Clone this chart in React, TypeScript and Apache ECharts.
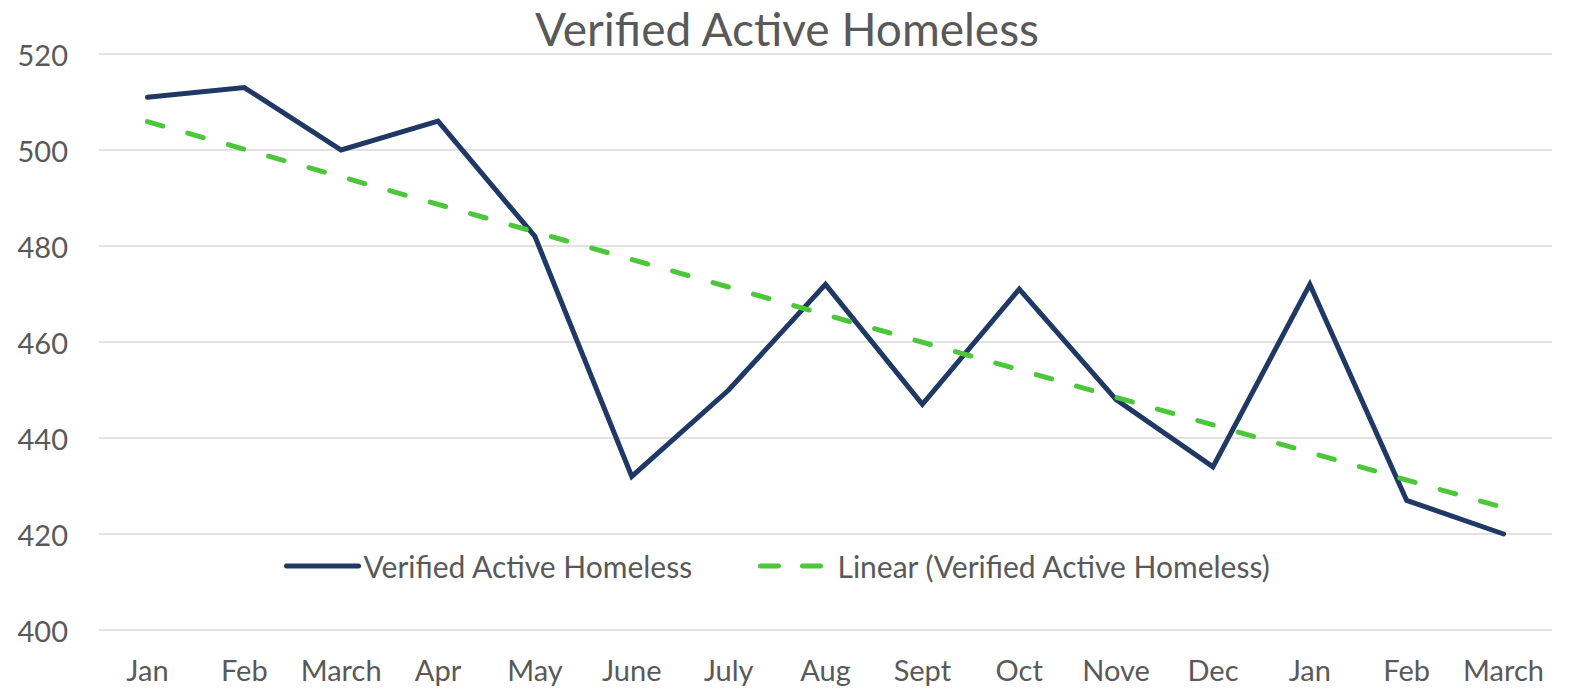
import React, { useEffect, useRef } from "react";
import * as echarts from "echarts";

const categories = ["Jan", "Feb", "March", "Apr", "May", "June", "July", "Aug", "Sept", "Oct", "Nove", "Dec", "Jan", "Feb", "March"];
const verified = [511, 513, 500, 506, 482, 432, 450, 472, 447, 471, 448, 434, 472, 427, 420];
// Linear trendline end values (first and last category)
const trendEnds = [505.9, 425.5];
const yTicks = { min: 400, max: 520, interval: 20 };

const FONT = "Lato, 'Open Sans', sans-serif";
const TEXT = "#595959";
const NAVY = "#203864";
const GREEN = "#4cc63a";

export default function App() {
  const ref = useRef<HTMLDivElement>(null);
  useEffect(() => {
    if (!ref.current) return;
    const chart = echarts.init(ref.current, undefined, { renderer: "svg" });
    const legendCommon = {
      top: 546,
      itemWidth: 72,
      itemHeight: 14,
      itemStyle: { opacity: 0 },
      textStyle: { fontFamily: FONT, fontSize: 30, color: TEXT },
    };
    chart.setOption({
      animation: false,
      backgroundColor: "#ffffff",
      textStyle: { fontFamily: FONT, color: TEXT },
      title: {
        text: "Verified Active Homeless",
        left: "center",
        top: 0,
        textStyle: { fontFamily: FONT, fontSize: 46, fontWeight: "normal", color: TEXT },
      },
      legend: [
        {
          ...legendCommon,
          data: ["Verified Active Homeless"],
          left: 279,
          lineStyle: { width: 5, color: NAVY, type: "solid", cap: "round" },
        },
        {
          ...legendCommon,
          data: ["Linear (Verified Active Homeless)"],
          left: 753,
          lineStyle: { width: 5, color: GREEN, type: [18, 24], cap: "round" },
        },
      ],
      grid: { left: 99, right: 22, top: 54, bottom: 61, containLabel: false },
      xAxis: {
        type: "category",
        data: categories,
        boundaryGap: true,
        axisLine: { show: false },
        axisTick: { show: false },
        axisLabel: { fontFamily: FONT, fontSize: 29, color: TEXT, margin: 25, interval: 0 },
      },
      yAxis: {
        type: "value",
        min: yTicks.min,
        max: yTicks.max,
        interval: yTicks.interval,
        axisLine: { show: false },
        axisTick: { show: false },
        axisLabel: { fontFamily: FONT, fontSize: 29, color: TEXT, margin: 31 },
        splitLine: { lineStyle: { color: "#d9d9d9", width: 1.5 } },
      },
      series: [
        {
          name: "Verified Active Homeless",
          type: "line",
          data: verified,
          symbol: "none",
          lineStyle: { color: NAVY, width: 5, cap: "round", join: "miter" },
          itemStyle: { color: NAVY },
          z: 2,
        },
        {
          name: "Linear (Verified Active Homeless)",
          type: "line",
          data: [
            [0, trendEnds[0]],
            [categories.length - 1, trendEnds[1]],
          ],
          symbol: "none",
          lineStyle: { color: GREEN, width: 5, type: [16, 26], cap: "round" },
          itemStyle: { color: GREEN },
          z: 3,
        },
      ],
    });
    return () => chart.dispose();
  }, []);
  return (
    <div
      ref={ref}
      style={{ position: "absolute", left: 0, top: 0, width: 1574, height: 691 }}
    />
  );
}
